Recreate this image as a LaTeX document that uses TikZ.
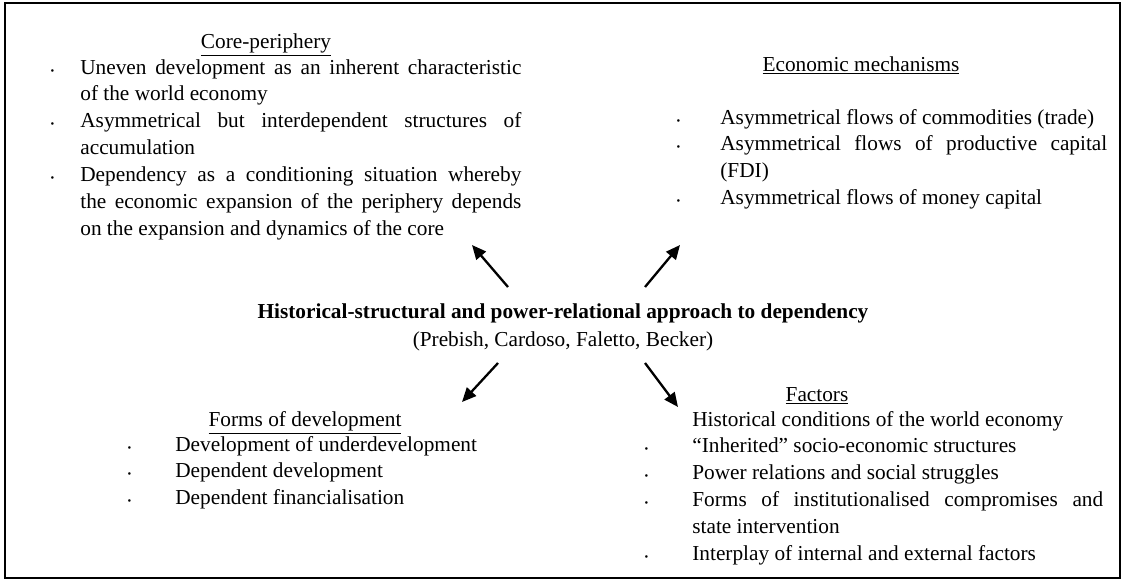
\documentclass[tikz,border=0pt]{standalone}
\usepackage{fontspec}
\setmainfont{Liberation Serif}
\usetikzlibrary{positioning, arrows.meta}
\tikzset{
        x=0.5634pt, y=-0.5634pt, % one unit is one pixel of the original scan
        >={Triangle[length=8pt, width=7pt]}, % filled heads like in the scan
        every node/.style={inner sep=0pt, font=\fontsize{12}{15.2}\selectfont},
        heading/.style={anchor=base}, % underlined titles of the four boxes
        block/.style={anchor=base west, align=justify}, % bullet lists
        link/.style={->, line width=1.3pt},
}
\def\outerframe{(5,3) rectangle (1120,578)}
\newcommand{\tinydot}{{\fontsize{6}{6}\selectfont\textbullet}}
\newcommand{\dotitem}[1]{\noindent\llap{\tinydot\hspace{#1}}}

\begin{document}
\begin{tikzpicture}
    \useasboundingbox (0,0) rectangle (1122,579);
    \draw[line width=1pt] \outerframe;

    % centre
    \node[anchor=base] (hub) at (563,318) {\textbf{Historical-structural and power-relational approach to dependency}};
    \node[anchor=base] (authors) at (563,346) {(Prebish, Cardoso, Faletto, Becker)};

    % top left
    \node[heading] (coretitle) at (266,48) {\underline{Core-periphery}};
    \node[block, text width=248.5pt] (corelist) at (80,74) {%
      \dotitem{14.7pt}Uneven development as an inherent characteristic\linebreak of the world economy\par
      \dotitem{14.7pt}Asymmetrical but interdependent structures of\linebreak accumulation\par
      \dotitem{14.7pt}Dependency as a conditioning situation whereby\linebreak the economic expansion of the periphery depends\linebreak on the expansion and dynamics of the core};

    % top right
    \node[heading] (econtitle) at (861,71) {\underline{Economic mechanisms}};
    \node[block, text width=218pt] (econlist) at (720,124) {%
      \dotitem{22.6pt}Asymmetrical flows of commodities (trade)\par
      \dotitem{22.6pt}Asymmetrical flows of productive capital\linebreak (FDI)\par
      \dotitem{22.6pt}Asymmetrical flows of money capital};

    % bottom left
    \node[heading] (formstitle) at (305,426) {\underline{Forms of development}};
    \node[block, text width=200pt] (formslist) at (175,451) {%
      \dotitem{24.8pt}Development of underdevelopment\par
      \dotitem{24.8pt}Dependent development\par
      \dotitem{24.8pt}Dependent financialisation};

    % bottom right
    \node[heading] (factorstitle) at (817,401) {\underline{Factors}};
    \node[block, text width=231.5pt] (factorslist) at (692,426) {%
      \noindent Historical conditions of the world economy\par
      \dotitem{24.8pt}``Inherited'' socio-economic structures\par
      \dotitem{24.8pt}Power relations and social struggles\par
      \dotitem{24.8pt}Forms of institutionalised compromises and\linebreak state intervention\par
      \dotitem{24.8pt}Interplay of internal and external factors};

    % arrows out of the centre
    \coordinate (nwfoot) at (508,287);
    \coordinate (nwhead) at (472,245);
    \coordinate (nefoot) at (645,287);
    \coordinate (nehead) at (680,245);
    \coordinate (swfoot) at (498,363);
    \coordinate (swhead) at (462,402);
    \coordinate (sefoot) at (645,363);
    \coordinate (sehead) at (678,407);
    \draw[link] (nwfoot) -- (nwhead);
    \draw[link] (nefoot) -- (nehead);
    \draw[link] (swfoot) -- (swhead);
    \draw[link] (sefoot) -- (sehead);
\end{tikzpicture}
\end{document}
